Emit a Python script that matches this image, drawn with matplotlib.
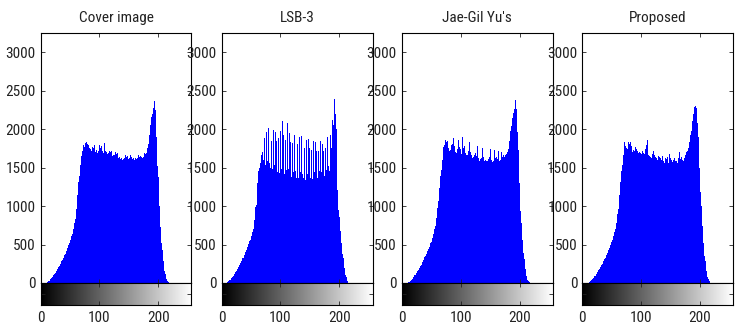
#!/usr/bin/env python3

import numpy as np
from matplotlib import pyplot as plt
from matplotlib import font_manager

################################################################################
# histogram data (counts per gray level 0..255)
################################################################################

titles = ['Cover image', 'LSB-3', "Jae-Gil Yu's", 'Proposed']
gray_levels = np.arange(256)

cover = [
	0,0,0,0,0,0,0,0,0,0,3,6,10,16,22,30,
	38,47,57,66,76,86,98,108,120,132,145,156,170,182,196,210,
	222,238,252,266,282,298,314,330,346,362,380,398,416,434,452,472,
	492,514,536,560,586,612,640,668,700,736,780,830,890,960,1050,1140,
	1230,1310,1390,1460,1530,1590,1650,1720,1830,1790,1840,1770,1820,1760,1830,1780,
	1810,1760,1800,1750,1790,1740,1780,1720,1770,1740,1760,1720,1790,1700,1750,1730,
	1760,1690,1740,1720,1790,1710,1750,1700,1780,1720,1740,1690,1760,1820,1710,1740,
	1700,1730,1680,1720,1690,1710,1660,1700,1680,1720,1650,1700,1660,1740,1670,1700,
	1640,1680,1650,1690,1620,1660,1640,1670,1610,1650,1630,1600,1640,1610,1650,1620,
	1660,1600,1640,1620,1650,1610,1640,1630,1600,1660,1620,1640,1610,1650,1620,1640,
	1600,1630,1650,1610,1640,1620,1660,1610,1640,1620,1650,1610,1640,1630,1660,1640,
	1670,1690,1680,1700,1690,1720,1760,1810,1870,1930,1990,2050,2110,2160,2200,2240,
	2280,2340,2360,2250,2080,1900,1700,1520,1380,1180,1000,850,730,620,520,430,
	350,280,215,160,115,80,55,35,20,12,6,3,1,0,0,0,
	0,0,0,0,0,0,0,0,0,0,0,0,0,0,0,0,
	0,0,0,0,0,0,0,0,0,0,0,0,0,0,0,0,
]

lsb3 = [
	0,0,0,0,0,0,0,0,0,4,8,14,20,26,34,42,
	52,60,72,80,92,100,118,126,140,150,170,176,198,206,226,236,
	258,266,288,296,320,330,352,362,390,400,426,436,464,476,506,516,
	548,560,590,606,640,660,700,760,820,840,990,1010,1230,1300,1320,1450,
	1470,1490,1560,1640,1660,1620,1700,1600,1990,1880,1600,1540,1960,1860,1580,1520,
	2010,1900,1560,1500,1970,1850,1540,1480,1990,1870,1530,1460,1960,1840,1500,1440,
	2000,1880,1510,1430,1980,1850,1480,1410,2100,1920,1500,1420,1990,1860,1470,1390,
	2080,1900,1480,1400,1950,1830,1460,1380,1960,1820,1440,1370,1930,1800,1450,1360,
	1940,1810,1430,1360,1900,1780,1440,1350,1910,1790,1420,1360,1880,1760,1430,1340,
	1860,1750,1420,1350,1870,1760,1430,1360,1840,1730,1420,1350,1850,1740,1440,1370,
	1830,1720,1430,1360,1820,1720,1450,1380,1840,1730,1440,1370,1810,1710,1450,1390,
	1850,1750,1470,1410,1900,1800,1520,1460,1990,1920,1800,1760,2170,2120,2060,2250,
	2390,2310,2200,2000,1600,1210,1050,950,860,760,680,600,520,450,380,320,
	260,200,150,110,75,40,20,10,5,2,0,0,0,0,0,0,
	0,0,0,0,0,0,0,0,0,0,0,0,0,0,0,0,
	0,0,0,0,0,0,0,0,0,0,0,0,0,0,0,0,
]

jae_gil_yu = [
	0,0,0,0,0,0,0,0,0,0,3,7,11,16,23,31,
	39,48,58,67,77,88,99,110,122,134,146,158,171,184,198,211,
	224,240,254,268,284,300,316,332,348,365,382,400,418,436,455,474,
	494,516,538,562,588,614,642,672,705,740,790,840,900,970,1060,1150,
	1240,1320,1390,1470,1540,1600,1680,1770,1910,1800,1860,1790,1830,1700,1850,1760,
	1820,1720,1840,1730,1790,1700,1810,1740,1880,1720,1780,1700,1760,1690,1820,1740,
	1860,1700,1770,1690,1740,1680,1720,1900,1700,1750,1660,1780,1690,1880,1670,1720,
	1660,1710,1650,1830,1640,1700,1660,1680,1620,1720,1640,1670,1600,1690,1630,1650,
	1600,1780,1620,1640,1590,1660,1610,1630,1590,1760,1600,1640,1580,1620,1600,1760,
	1590,1630,1580,1610,1600,1640,1580,1740,1600,1620,1570,1610,1590,1730,1600,1620,
	1580,1640,1590,1610,1720,1600,1580,1630,1600,1700,1590,1640,1620,1660,1640,1680,
	1660,1700,1680,1710,1700,1740,1790,1850,1920,1980,2040,2100,2150,2180,2210,2260,
	2310,2380,2330,2260,2160,1960,1730,1500,1300,1100,930,780,660,560,470,390,
	310,240,180,135,95,65,45,28,16,9,4,2,0,0,0,0,
	0,0,0,0,0,0,0,0,0,0,0,0,0,0,0,0,
	0,0,0,0,0,0,0,0,0,0,0,0,0,0,0,0,
]

proposed = [
	0,0,0,0,0,0,0,0,0,0,3,6,10,15,22,30,
	38,47,56,66,76,86,97,108,120,132,144,156,169,182,195,208,
	222,236,250,265,280,296,312,328,344,360,378,396,414,432,451,470,
	490,512,534,558,584,610,638,668,700,736,782,832,892,962,1050,1140,
	1230,1310,1390,1460,1530,1590,1660,1730,1830,1780,1820,1760,1800,1740,1830,1770,
	1810,1750,1830,1720,1780,1700,1760,1730,1840,1710,1770,1700,1740,1680,1720,1690,
	1760,1700,1910,1690,1740,1680,1720,1760,1690,1860,1680,1740,1660,1790,1680,1860,
	1660,1710,1650,1700,1640,1690,1620,1680,1650,1720,1610,1660,1640,1740,1620,1680,
	1600,1650,1580,1640,1600,1620,1560,1600,1650,1700,1580,1640,1560,1620,1590,1610,
	1570,1640,1560,1600,1680,1580,1620,1550,1600,1570,1630,1600,1560,1620,1580,1640,
	1580,1600,1560,1620,1590,1700,1570,1610,1580,1640,1600,1620,1590,1780,1620,1660,
	1640,1700,1680,1720,1760,1800,1830,1870,1920,1980,2040,2100,2150,2200,2250,2290,
	2300,2310,2280,2200,2080,1900,1700,1500,1380,1180,1000,860,740,620,520,430,
	350,280,215,160,115,80,55,35,20,12,6,3,1,0,0,0,
	0,0,0,0,0,0,0,0,0,0,0,0,0,0,0,0,
	0,0,0,0,0,0,0,0,0,0,0,0,0,0,0,0,
]

histograms = [cover, lsb3, jae_gil_yu, proposed]
y_ticks = [0, 500, 1000, 1500, 2000, 2500, 3000]
x_ticks = [0, 100, 200]

################################################################################
# layout (pixels)
################################################################################

W, H = 742, 329
panel_lefts = [40.5, 221.5, 401.8, 582.3]
panel_width = 151
hist_top, hist_bottom = 33, 283
bar_bottom = 305
x_max = 256.5
y_max = 3250

# the reference uses a narrow sans face; take one if the system has it
installed = font_manager.fontManager.ttflist
narrow_names = sorted({f.name for f in installed
					   if 'Narrow' in f.name or 'Condensed' in f.name})
preferred = ['Liberation Sans Narrow', 'Arial Narrow', 'Roboto Condensed',
			 'Open Sans Condensed', 'Noto Sans Condensed', 'DejaVu Sans Condensed']
chosen = [name for name in preferred if name in narrow_names]
if chosen:
	plt.rcParams['font.family'] = [chosen[0], 'DejaVu Sans']
elif narrow_names:
	plt.rcParams['font.family'] = [narrow_names[0], 'DejaVu Sans']
else:
	plt.rcParams['font.family'] = ['Liberation Sans', 'DejaVu Sans']
plt.rcParams['font.size'] = 11

fig = plt.figure(figsize=(W/100, H/100), dpi=100)

gradient = gray_levels.reshape(1, -1)

for left, title, counts in zip(panel_lefts, titles, histograms):
	ax = fig.add_axes([left/W, (H-hist_bottom)/H,
					   panel_width/W, (hist_bottom-hist_top)/H])
	ax.bar(gray_levels, counts, width=1.0, color='#0000ff',
		   linewidth=0, align='center')
	ax.set_xlim(0, x_max)
	ax.set_ylim(0, y_max)
	ax.set_xticks(x_ticks)
	ax.set_yticks(y_ticks)
	ax.tick_params(direction='in', length=3, width=0.6,
				   top=True, right=True, labelbottom=False,
				   labelsize=11, pad=3.6, colors='#222222')
	for spine in ax.spines.values():
		spine.set_linewidth(0.8)
	ax.set_title(title, fontsize=11, pad=8, color='#222222')

	cax = fig.add_axes([left/W, (H-bar_bottom)/H,
						panel_width/W, (bar_bottom-hist_bottom)/H])
	cax.imshow(gradient, cmap='gray', aspect='auto',
			   extent=[0, x_max, 0, 1], vmin=0, vmax=255,
			   interpolation='bilinear')
	cax.set_xlim(0, x_max)
	cax.set_ylim(0, 1)
	cax.set_xticks(x_ticks)
	cax.set_yticks([0.5])
	cax.tick_params(direction='in', length=3, width=0.6,
					top=True, right=True, labelleft=False,
					labelsize=11, pad=4, colors='#222222')
	for spine in cax.spines.values():
		spine.set_linewidth(0.8)

plt.savefig('out.png', dpi=100)
plt.close()
